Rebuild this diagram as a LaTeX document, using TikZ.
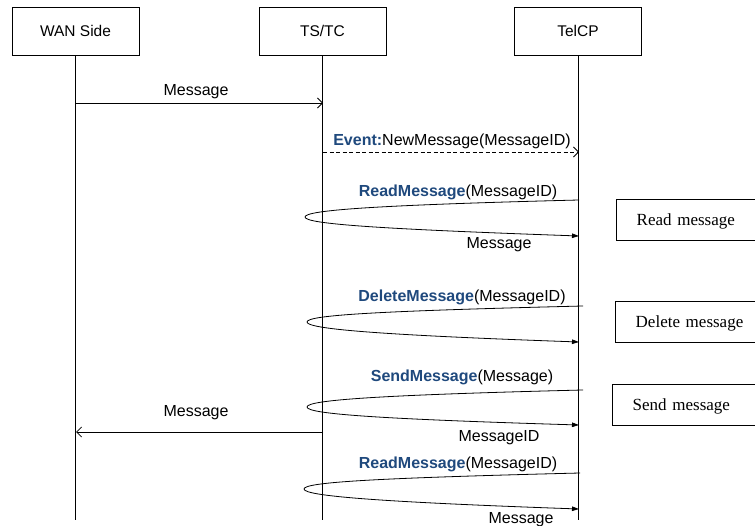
\documentclass[tikz,border=0pt]{standalone}
\usepackage{fontspec}
\setmainfont{Liberation Sans}
\newfontfamily\notefont{Liberation Serif}
\usetikzlibrary{arrows.meta}
\definecolor{opblue}{RGB}{31,73,125}
\begin{document}
\begin{tikzpicture}[x=1pt,y=-1pt,
  actor/.style={draw,line width=0.8pt,minimum width=127pt,minimum height=48pt,inner sep=0pt,
    font=\fontsize{15.5}{18}\selectfont},
  life/.style={line width=0.8pt},
  msg/.style={line width=0.8pt,-{Straight Barb[length=5pt,width=10pt]}},
  evt/.style={msg,dashed,dash pattern=on 4pt off 2.5pt},
  call/.style={line width=0.8pt,-{Triangle[length=7pt,width=4.5pt]}},
  lbl/.style={inner sep=0pt,font=\fontsize{16}{18}\selectfont},
  note/.style={draw,line width=1.4pt,anchor=north west,minimum height=41pt,
    text width=140pt,align=left,inner xsep=20pt,inner ysep=0pt,
    text height=15pt,text depth=3.5pt,
    font=\notefont\fontsize{17}{19}\selectfont}
]
\useasboundingbox (0,0) rectangle (755,526);

% participants
\node[actor] (wan) at (75.5,31) {WAN Side};
\node[actor] (ts)  at (322.5,31) {TS/TC};
\node[actor] (tel) at (578,31) {TelCP};

% lifelines
\coordinate (wanEnd) at (76,520);
\coordinate (tsEnd)  at (323,520);
\coordinate (telEnd) at (579,520);
\draw[life] (wan.south) -- (wan.south |- wanEnd);
\draw[life] (ts.south)  -- (ts.south |- tsEnd);
\draw[life] (tel.south) -- (tel.south |- telEnd);

% incoming message
\coordinate (m1a) at (76,103);
\coordinate (m1b) at (323,103);
\draw[msg] (m1a) -- (m1b);
\node[lbl] (m1l) at (196,92) {Message};

% event notification
\coordinate (e1a) at (323,152);
\coordinate (e1b) at (579,152);
\draw[evt] (e1a) -- (e1b);
\node[lbl] (e1l) at (452,141) {{\color{opblue}\bfseries Event:}NewMessage(MessageID)};

% ReadMessage call
\coordinate (r1a) at (579,200);
\coordinate (r1t) at (305,217);
\coordinate (r1b) at (579,236);
\draw[call] (r1a) .. controls (380,205) and (305,210) .. (r1t)
  .. controls (305,224) and (380,229) .. (r1b);
\node[lbl] (r1l) at (458,192) {{\color{opblue}\bfseries ReadMessage}(MessageID)};
\node[lbl] (r1r) at (499,245) {Message};

% DeleteMessage call
\coordinate (d1a) at (583,306);
\coordinate (d1t) at (307,322);
\coordinate (d1b) at (579,342);
\draw[call] (d1a) .. controls (380,311) and (307,315) .. (d1t)
  .. controls (307,329) and (380,335) .. (d1b);
\node[lbl] (d1l) at (462,297) {{\color{opblue}\bfseries DeleteMessage}(MessageID)};

% SendMessage call
\coordinate (s1a) at (583,390);
\coordinate (s1t) at (307,407);
\coordinate (s1b) at (579,425);
\draw[call] (s1a) .. controls (380,395) and (307,400) .. (s1t)
  .. controls (307,414) and (380,419) .. (s1b);
\node[lbl] (s1l) at (462,377) {{\color{opblue}\bfseries SendMessage}(Message)};
\node[lbl] (s1r) at (499,438) {MessageID};

% outgoing message
\coordinate (m2a) at (323,432);
\coordinate (m2b) at (76,432);
\draw[msg] (m2a) -- (m2b);
\node[lbl] (m2l) at (196,413) {Message};

% second ReadMessage call
\coordinate (r2a) at (580,473);
\coordinate (r2t) at (304,489);
\coordinate (r2b) at (579,509);
\draw[call] (r2a) .. controls (380,478) and (304,482) .. (r2t)
  .. controls (304,496) and (380,502) .. (r2b);
\node[lbl] (r2l) at (458,464) {{\color{opblue}\bfseries ReadMessage}(MessageID)};
\node[lbl] (r2r) at (521,520) {Message};

% action notes
\node[note] (n1) at (616,199) {Read message};
\node[note] (n2) at (615,301) {Delete message};
\node[note] (n3) at (612,384) {Send message};
\end{tikzpicture}
\end{document}
